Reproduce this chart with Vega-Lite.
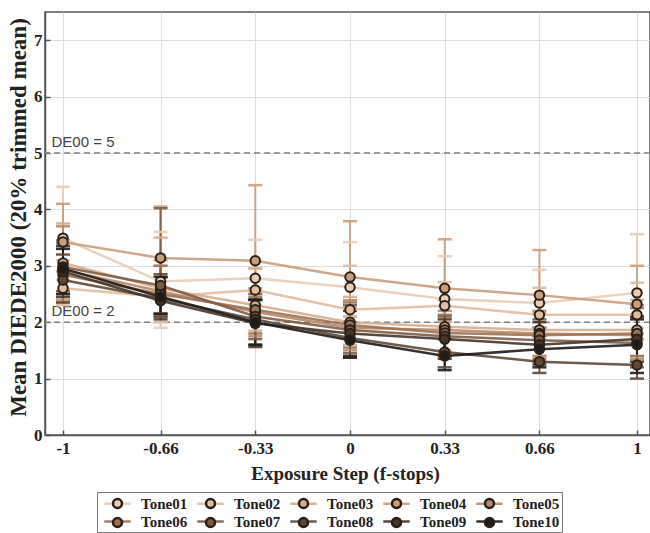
{
  "$schema": "https://vega.github.io/schema/vega-lite/v6.json",
  "width": 605,
  "height": 423,
  "autosize": {"type": "none"},
  "padding": {"left": 45, "top": 12, "right": 0, "bottom": 98},
  "background": "white",
  "config": {
    "view": {"stroke": "#555", "strokeWidth": 1.5},
    "axis": {
      "labelFont": "Liberation Serif", "labelFontWeight": "bold", "labelFontSize": 17, "labelColor": "#222",
      "titleFont": "Liberation Serif", "titleFontWeight": "bold", "titleColor": "#222",
      "gridColor": "#dedede", "gridWidth": 1, "domainColor": "#555", "domainWidth": 1.5, "tickColor": "#555", "tickWidth": 1.5
    }
  },
  "datasets": {
    "refs": [
      {"v": 5, "lab": "DE00 = 5"},
      {"v": 2, "lab": "DE00 = 2"}
    ],
    "d": [
      {"tone": "Tone01", "x": -1, "m": 3.49, "lo": 2.75, "hi": 4.40},
      {"tone": "Tone01", "x": -0.66, "m": 2.72, "lo": 1.90, "hi": 3.60},
      {"tone": "Tone01", "x": -0.33, "m": 2.78, "lo": 2.30, "hi": 3.46},
      {"tone": "Tone01", "x": 0, "m": 2.62, "lo": 2.10, "hi": 3.42},
      {"tone": "Tone01", "x": 0.33, "m": 2.41, "lo": 1.90, "hi": 3.17},
      {"tone": "Tone01", "x": 0.66, "m": 2.34, "lo": 1.85, "hi": 2.93},
      {"tone": "Tone01", "x": 1, "m": 2.52, "lo": 1.90, "hi": 3.56},
      {"tone": "Tone02", "x": -1, "m": 2.60, "lo": 2.30, "hi": 3.10},
      {"tone": "Tone02", "x": -0.66, "m": 2.45, "lo": 2.00, "hi": 3.00},
      {"tone": "Tone02", "x": -0.33, "m": 2.57, "lo": 2.10, "hi": 2.96},
      {"tone": "Tone02", "x": 0, "m": 2.22, "lo": 1.85, "hi": 3.00},
      {"tone": "Tone02", "x": 0.33, "m": 2.29, "lo": 1.80, "hi": 2.71},
      {"tone": "Tone02", "x": 0.66, "m": 2.13, "lo": 1.70, "hi": 2.61},
      {"tone": "Tone02", "x": 1, "m": 2.13, "lo": 1.70, "hi": 2.70},
      {"tone": "Tone03", "x": -1, "m": 3.05, "lo": 2.50, "hi": 3.75},
      {"tone": "Tone03", "x": -0.66, "m": 2.60, "lo": 2.10, "hi": 3.50},
      {"tone": "Tone03", "x": -0.33, "m": 2.30, "lo": 1.85, "hi": 2.95},
      {"tone": "Tone03", "x": 0, "m": 2.00, "lo": 1.60, "hi": 2.45},
      {"tone": "Tone03", "x": 0.33, "m": 1.92, "lo": 1.50, "hi": 2.40},
      {"tone": "Tone03", "x": 0.66, "m": 1.86, "lo": 1.40, "hi": 2.35},
      {"tone": "Tone03", "x": 1, "m": 1.86, "lo": 1.40, "hi": 2.40},
      {"tone": "Tone04", "x": -1, "m": 3.42, "lo": 2.90, "hi": 4.10},
      {"tone": "Tone04", "x": -0.66, "m": 3.14, "lo": 2.40, "hi": 4.05},
      {"tone": "Tone04", "x": -0.33, "m": 3.09, "lo": 2.55, "hi": 4.43},
      {"tone": "Tone04", "x": 0, "m": 2.80, "lo": 2.25, "hi": 3.79},
      {"tone": "Tone04", "x": 0.33, "m": 2.60, "lo": 2.00, "hi": 3.47},
      {"tone": "Tone04", "x": 0.66, "m": 2.48, "lo": 1.90, "hi": 3.28},
      {"tone": "Tone04", "x": 1, "m": 2.32, "lo": 1.80, "hi": 3.00},
      {"tone": "Tone05", "x": -1, "m": 2.93, "lo": 2.40, "hi": 3.70},
      {"tone": "Tone05", "x": -0.66, "m": 2.55, "lo": 2.15, "hi": 3.10},
      {"tone": "Tone05", "x": -0.33, "m": 2.18, "lo": 1.75, "hi": 2.60},
      {"tone": "Tone05", "x": 0, "m": 1.90, "lo": 1.50, "hi": 2.39},
      {"tone": "Tone05", "x": 0.33, "m": 1.86, "lo": 1.45, "hi": 2.20},
      {"tone": "Tone05", "x": 0.66, "m": 1.80, "lo": 1.40, "hi": 2.20},
      {"tone": "Tone05", "x": 1, "m": 1.77, "lo": 1.35, "hi": 2.30},
      {"tone": "Tone06", "x": -1, "m": 2.84, "lo": 2.35, "hi": 3.40},
      {"tone": "Tone06", "x": -0.66, "m": 2.50, "lo": 2.10, "hi": 3.00},
      {"tone": "Tone06", "x": -0.33, "m": 2.22, "lo": 1.80, "hi": 2.45},
      {"tone": "Tone06", "x": 0, "m": 1.95, "lo": 1.55, "hi": 2.35},
      {"tone": "Tone06", "x": 0.33, "m": 1.81, "lo": 1.40, "hi": 2.13},
      {"tone": "Tone06", "x": 0.66, "m": 1.77, "lo": 1.35, "hi": 2.15},
      {"tone": "Tone06", "x": 1, "m": 1.80, "lo": 1.40, "hi": 2.25},
      {"tone": "Tone07", "x": -1, "m": 2.98, "lo": 2.55, "hi": 3.45},
      {"tone": "Tone07", "x": -0.66, "m": 2.65, "lo": 2.15, "hi": 4.02},
      {"tone": "Tone07", "x": -0.33, "m": 2.10, "lo": 1.70, "hi": 2.50},
      {"tone": "Tone07", "x": 0, "m": 1.86, "lo": 1.45, "hi": 2.30},
      {"tone": "Tone07", "x": 0.33, "m": 1.75, "lo": 1.40, "hi": 2.10},
      {"tone": "Tone07", "x": 0.66, "m": 1.68, "lo": 1.30, "hi": 2.05},
      {"tone": "Tone07", "x": 1, "m": 1.63, "lo": 1.20, "hi": 2.10},
      {"tone": "Tone08", "x": -1, "m": 2.75, "lo": 2.35, "hi": 3.20},
      {"tone": "Tone08", "x": -0.66, "m": 2.42, "lo": 2.10, "hi": 2.85},
      {"tone": "Tone08", "x": -0.33, "m": 2.05, "lo": 1.60, "hi": 2.39},
      {"tone": "Tone08", "x": 0, "m": 1.72, "lo": 1.40, "hi": 2.10},
      {"tone": "Tone08", "x": 0.33, "m": 1.47, "lo": 1.20, "hi": 1.90},
      {"tone": "Tone08", "x": 0.66, "m": 1.30, "lo": 1.10, "hi": 1.75},
      {"tone": "Tone08", "x": 1, "m": 1.24, "lo": 1.00, "hi": 1.70},
      {"tone": "Tone09", "x": -1, "m": 2.90, "lo": 2.45, "hi": 3.35},
      {"tone": "Tone09", "x": -0.66, "m": 2.38, "lo": 2.05, "hi": 2.80},
      {"tone": "Tone09", "x": -0.33, "m": 1.98, "lo": 1.56, "hi": 2.40},
      {"tone": "Tone09", "x": 0, "m": 1.80, "lo": 1.40, "hi": 2.20},
      {"tone": "Tone09", "x": 0.33, "m": 1.70, "lo": 1.35, "hi": 2.05},
      {"tone": "Tone09", "x": 0.66, "m": 1.60, "lo": 1.25, "hi": 2.00},
      {"tone": "Tone09", "x": 1, "m": 1.70, "lo": 1.30, "hi": 2.10},
      {"tone": "Tone10", "x": -1, "m": 2.95, "lo": 2.50, "hi": 3.30},
      {"tone": "Tone10", "x": -0.66, "m": 2.45, "lo": 2.15, "hi": 2.80},
      {"tone": "Tone10", "x": -0.33, "m": 2.00, "lo": 1.60, "hi": 2.40},
      {"tone": "Tone10", "x": 0, "m": 1.68, "lo": 1.37, "hi": 2.00},
      {"tone": "Tone10", "x": 0.33, "m": 1.40, "lo": 1.15, "hi": 1.70},
      {"tone": "Tone10", "x": 0.66, "m": 1.52, "lo": 1.20, "hi": 1.90},
      {"tone": "Tone10", "x": 1, "m": 1.60, "lo": 1.10, "hi": 2.05}
    ]
  },
  "layer": [
    {
      "data": {"name": "refs"},
      "mark": {"type": "rule", "color": "#808080", "strokeWidth": 1.5, "strokeDash": [6, 4]},
      "encoding": {
        "y": {
          "field": "v", "type": "quantitative",
          "scale": {"domain": [0, 7.5], "nice": false, "zero": false},
          "axis": {
            "values": [0, 1, 2, 3, 4, 5, 6, 7],
            "format": "d",
            "title": "Mean DIEDE2000 (20% trimmed mean)",
            "titleFontSize": 23,
            "titleX": -27, "titleY": 205, "titleAngle": -90,
            "titleAlign": "center", "titleBaseline": "middle",
            "labelPadding": 8, "tickSize": -5, "grid": true
          }
        }
      }
    },
    {
      "data": {"name": "refs"},
      "mark": {"type": "text", "align": "left", "baseline": "bottom", "dy": -3, "font": "Liberation Sans", "fontSize": 15, "color": "#444"},
      "encoding": {
        "x": {"datum": -1.04, "type": "quantitative"},
        "y": {"field": "v", "type": "quantitative"},
        "text": {"field": "lab"}
      }
    },
    {
      "data": {"name": "d"},
      "mark": {"type": "rule", "strokeWidth": 2, "opacity": 0.9},
      "encoding": {
        "x": {
          "field": "x", "type": "quantitative",
          "scale": {"domain": [-1.0627, 1.0453], "nice": false, "zero": false},
          "axis": {
            "values": [-1, -0.66, -0.33, 0, 0.33, 0.66, 1],
            "labelExpr": "'' + datum.value",
            "title": "Exposure Step (f-stops)",
            "titleFontSize": 19,
            "titleX": 300, "titleY": 38, "titleAlign": "center", "titleBaseline": "middle",
            "labelPadding": 10, "tickSize": -5, "grid": true
          }
        },
        "y": {"field": "lo", "type": "quantitative"},
        "y2": {"field": "hi"},
        "color": {
          "field": "tone", "type": "nominal",
          "scale": {
            "domain": ["Tone01", "Tone02", "Tone03", "Tone04", "Tone05", "Tone06", "Tone07", "Tone08", "Tone09", "Tone10"],
            "range": ["#E8CDB7", "#DFBEA2", "#D5AE8E", "#C89E7C", "#B78A69", "#9C7254", "#7D5C45", "#614835", "#45352A", "#1E1B19"]
          },
          "legend": {
            "orient": "none", "legendX": 52, "legendY": 480, "columns": 5, "direction": "horizontal",
            "symbolType": "M-1.65,0H-0.6M0.6,0H1.65", "symbolSize": 256, "symbolStrokeWidth": 2.5, "symbolOffset": 9,
            "title": null,
            "labelFont": "Liberation Serif", "labelFontWeight": "bold", "labelFontSize": 15, "labelColor": "#222",
            "labelOffset": 14, "columnPadding": 4, "rowPadding": 0, "padding": 2,
            "strokeColor": "#777"
          }
        }
      }
    },
    {
      "data": {"name": "d"},
      "mark": {"type": "tick", "orient": "horizontal", "size": 14, "thickness": 2.5, "opacity": 0.9},
      "encoding": {
        "x": {"field": "x", "type": "quantitative"},
        "y": {"field": "hi", "type": "quantitative"},
        "color": {"field": "tone", "type": "nominal"}
      }
    },
    {
      "data": {"name": "d"},
      "mark": {"type": "tick", "orient": "horizontal", "size": 14, "thickness": 2.5, "opacity": 0.9},
      "encoding": {
        "x": {"field": "x", "type": "quantitative"},
        "y": {"field": "lo", "type": "quantitative"},
        "color": {"field": "tone", "type": "nominal"}
      }
    },
    {
      "data": {"name": "d"},
      "mark": {"type": "line", "strokeWidth": 2.5, "opacity": 0.9},
      "encoding": {
        "x": {"field": "x", "type": "quantitative"},
        "y": {"field": "m", "type": "quantitative"},
        "color": {"field": "tone", "type": "nominal"}
      }
    },
    {
      "data": {"name": "d"},
      "mark": {"type": "point", "shape": "circle", "filled": true, "size": 90, "stroke": "#2a2018", "strokeWidth": 2, "opacity": 1},
      "encoding": {
        "x": {"field": "x", "type": "quantitative"},
        "y": {"field": "m", "type": "quantitative"},
        "fill": {
          "field": "tone", "type": "nominal",
          "scale": {"range": ["#E8CDB7", "#DFBEA2", "#D5AE8E", "#C89E7C", "#B78A69", "#9C7254", "#7D5C45", "#614835", "#45352A", "#1E1B19"]},
          "legend": {
            "orient": "none", "legendX": 52, "legendY": 480, "columns": 5, "direction": "horizontal",
            "symbolType": "M0.56,0A0.56,0.56,0,1,1,-0.56,0A0.56,0.56,0,1,1,0.56,0Z", "symbolSize": 256, "symbolStrokeWidth": 2.5, "symbolOffset": 9,
            "symbolStrokeColor": "#2a2018", "symbolOpacity": 1,
            "title": null,
            "labelFont": "Liberation Serif", "labelFontWeight": "bold", "labelFontSize": 15, "labelColor": "#222", "labelOpacity": 0,
            "labelOffset": 14, "columnPadding": 4, "rowPadding": 0, "padding": 2
          }
        }
      }
    }
  ]
}
